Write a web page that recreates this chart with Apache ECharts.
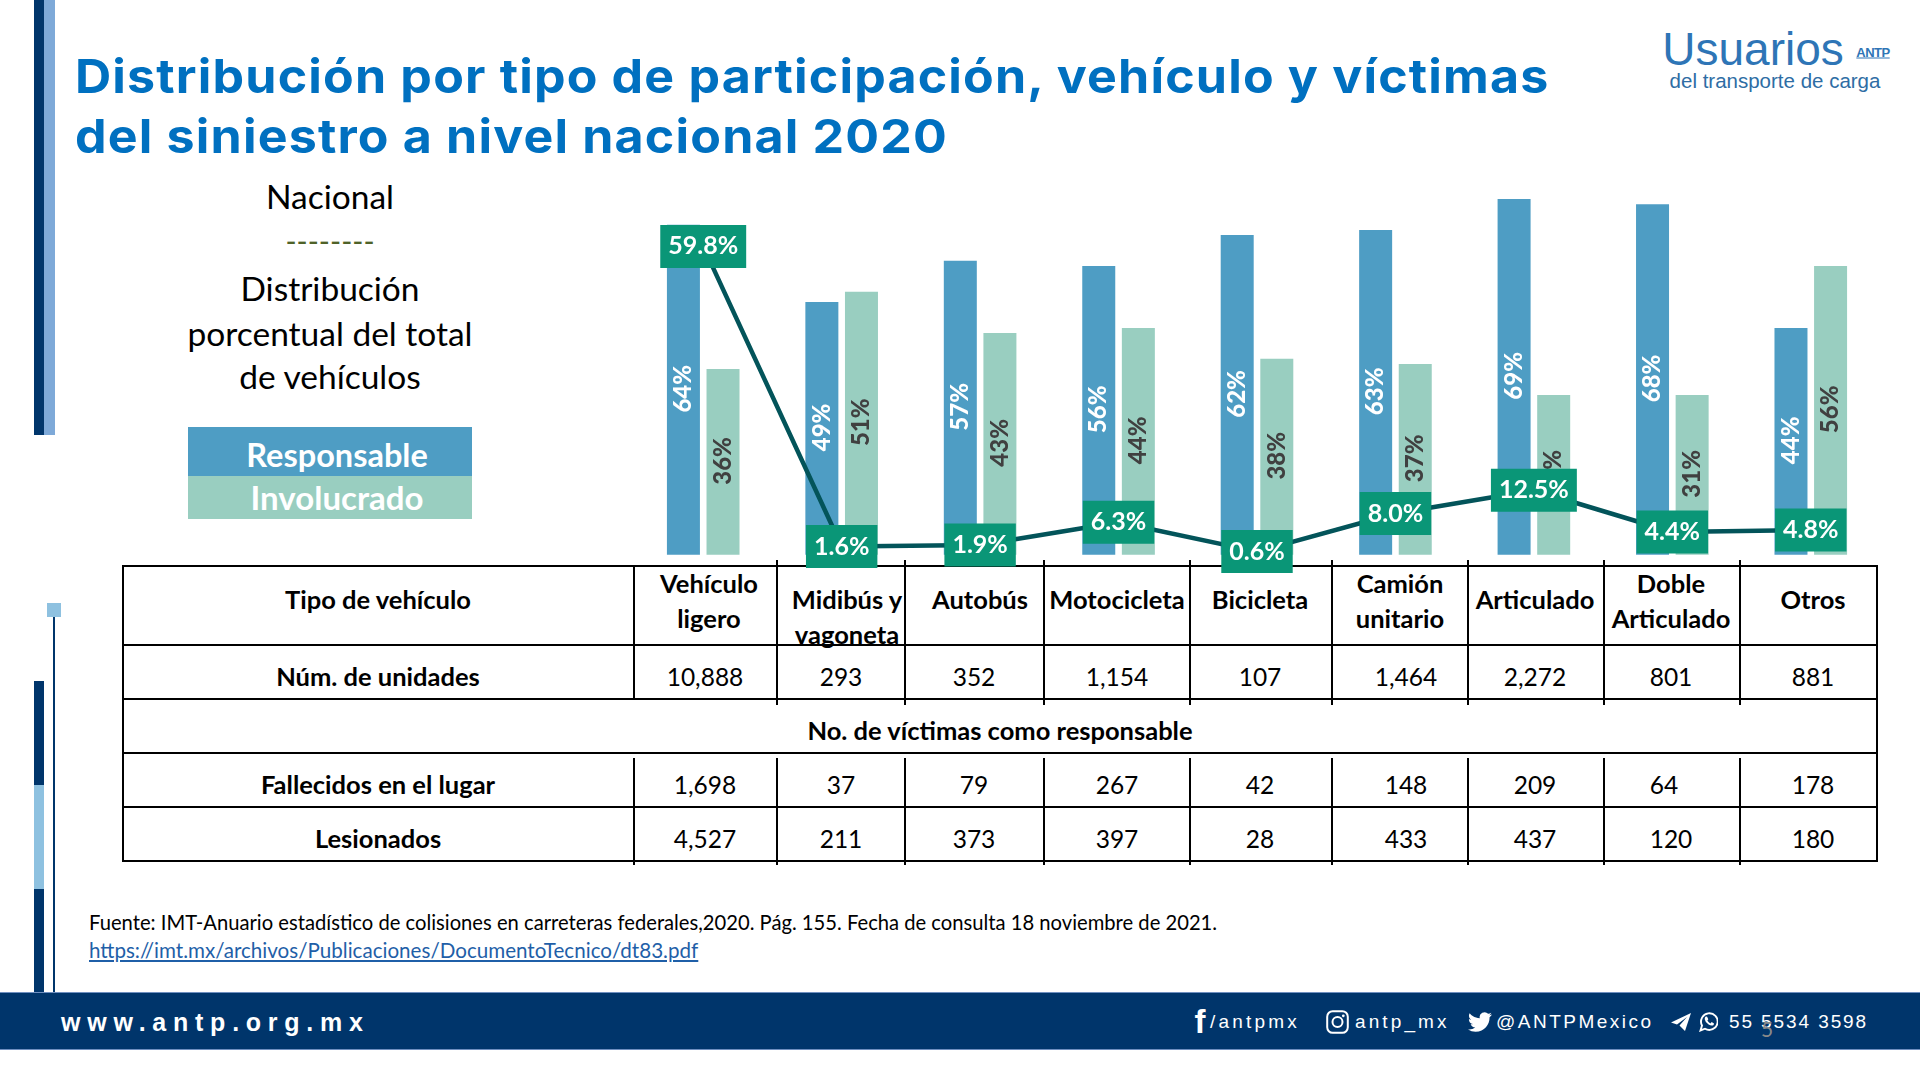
<!DOCTYPE html>
<html lang="es">
<head>
<meta charset="utf-8">
<title>Distribución por tipo de participación</title>
<script src="https://cdn.jsdelivr.net/npm/echarts@6/dist/echarts.min.js"></script>
<style>
	html, body { margin: 0; padding: 0; background: #fff; width: 1920px; height: 1080px; overflow: hidden; }
	#slide, #chart { position: absolute; left: 0; top: 0; width: 1920px; height: 1080px; }
	#chart { z-index: 2; }
	.t { position: absolute; white-space: nowrap; transform: translate(-50%, -50%); font-family: Lato, sans-serif; color: #000; }
	.l { position: absolute; white-space: nowrap; font-family: Lato, sans-serif; }
	.r { position: absolute; }
	.foot { position: absolute; white-space: nowrap; top: 1010px; line-height: 24px; font-family: "Liberation Sans", sans-serif; font-size: 19px; color: #fff; }
	svg { position: absolute; }
</style>
</head>
<body>
<div id="slide"></div>
<div id="chart"></div>
<script>
const categories = ['Vehículo\nligero', 'Midibús y\nvagoneta', 'Autobús', 'Motocicleta', 'Bicicleta', 'Camión\nunitario', 'Articulado', 'Doble\nArticulado', 'Otros'];
const responsable = [64, 49, 57, 56, 62, 63, 69, 68, 44];
const involucrado = [36, 51, 43, 44, 38, 37, 31, 31, 56];
const unidadesPct = [59.8, 1.6, 1.9, 6.3, 0.6, 8.0, 12.5, 4.4, 4.8];
const unidades = [10888, 293, 352, 1154, 107, 1464, 2272, 801, 881];
const fallecidos = [1698, 37, 79, 267, 42, 148, 209, 64, 178];
const lesionados = [4527, 211, 373, 397, 28, 433, 437, 120, 180];

const BLUE = '#4e9dc4';
const MINT = '#99cec0';
const NAVY = '#00356b';

const slide = document.getElementById('slide');

function rect(x, y, w, h, color) {
	const d = document.createElement('div');
	d.className = 'r';
	d.style.cssText = `left:${x}px;top:${y}px;width:${w}px;height:${h}px;background:${color}`;
	slide.appendChild(d);
}

function text(str, x, y, size, extra) {
	const d = document.createElement('div');
	d.className = 't';
	d.textContent = str;
	d.style.cssText = `left:${x}px;top:${y}px;font-size:${size}px;${extra || ''}`;
	slide.appendChild(d);
	return d;
}

function leftText(str, x, y, size, extra) {
	const d = document.createElement('div');
	d.className = 'l';
	d.textContent = str;
	d.style.cssText = `left:${x}px;top:${y}px;font-size:${size}px;${extra || ''}`;
	slide.appendChild(d);
	return d;
}

// side decoration
rect(34, 0, 10, 435, NAVY);
rect(44, 0, 10.5, 435, '#7ea9d8');
rect(34, 681, 10, 104, NAVY);
rect(34, 785, 10, 104, '#8ec1e0');
rect(34, 889, 10, 104, NAVY);
rect(47, 603, 14, 14, '#8ec1e0');
rect(53, 617, 2, 376, NAVY);

// title, stretched because the original face is wider than Inter
const titleStyle = 'font-family:Inter,sans-serif;font-weight:700;color:#0070c0;line-height:60px;letter-spacing:1.1px;transform:scaleX(1.066);transform-origin:left center';
leftText('Distribución por tipo de participación, vehículo y víctimas', 75, 46, 47, titleStyle);
leftText('del siniestro a nivel nacional 2020', 75, 106, 47, titleStyle);

// logo
text('Usuarios', 1753, 49, 46, 'font-family:"Liberation Sans",sans-serif;color:#2e75b6');
text('ANTP', 1873, 52, 13, 'font-family:"Liberation Sans",sans-serif;font-weight:700;color:#2e75b6;text-decoration:underline;letter-spacing:-.5px');
text('del transporte de carga', 1775, 81, 20.5, 'font-family:"Liberation Sans",sans-serif;color:#2e6da4');

// left notes
text('Nacional', 330, 196, 33.5);
text('--------', 330, 240, 30, 'color:#4f6228');
text('Distribución', 330, 288, 33.5);
text('porcentual del total', 330, 333, 33.5);
text('de vehículos', 330, 376, 33.5);

// legend
rect(188, 427, 284, 49, BLUE);
rect(188, 476, 284, 43, MINT);
text('Responsable', 337, 454, 32.5, 'color:#fff;font-weight:700');
text('Involucrado', 337, 497, 33, 'color:#fff;font-weight:700');

// table
const colLines = [634, 777, 905, 1044, 1190, 1332, 1468, 1604, 1740];
const colCenters = [709, 847, 980, 1117, 1260, 1400, 1535, 1671, 1813];
const valCenters = [705, 841, 974, 1117, 1260, 1406, 1535, 1671, 1813];
const rowLines = [566, 645, 699, 753, 807, 861];

rowLines.forEach(y => rect(123, y - 1, 1755, 2.4, '#000'));
rect(122, 565, 2.4, 297, '#000');
rect(1876, 565, 2.4, 297, '#000');
colLines.forEach((x, i) => {
	if (i === 0) {
		rect(x - 0.75, 566, 1.6, 134, '#000');
	} else {
		rect(x - 0.75, 560, 1.6, 145, '#000');
	}
	rect(x - 0.75, 758, 1.6, 107, '#000');
});

const bold = 'font-weight:700';
text('Tipo de vehículo', 378, 599, 25.5, bold);
text('Núm. de unidades', 378, 676, 25.5, bold);
text('No. de víctimas como responsable', 1000, 730, 25.5, bold);
text('Fallecidos en el lugar', 378, 784, 25.5, bold);
text('Lesionados', 378, 838, 25.5, bold);

categories.forEach((name, i) => {
	const parts = name.split('\n');
	if (parts.length === 1) {
		text(parts[0], colCenters[i], 599, 25.5, bold);
	} else {
		const top = i === 1 ? 599 : 583;
		text(parts[0], colCenters[i], top, 25.5, bold);
		text(parts[1], colCenters[i], top + 35, 25.5, bold);
	}
	text(unidades[i].toLocaleString('en-US'), valCenters[i], 676, 24.5);
	// the 64 sits a little left of its column in the reference
	text(fallecidos[i].toLocaleString('en-US'), valCenters[i] - (i === 7 ? 7 : 0), 784, 24.5);
	text(lesionados[i].toLocaleString('en-US'), valCenters[i], 838, 24.5);
});

// source
leftText('Fuente: IMT-Anuario estadístico de colisiones en carreteras federales,2020. Pág. 155. Fecha de consulta 18 noviembre de 2021.', 89, 908, 20.2, 'color:#000;line-height:28px');
leftText('https://imt.mx/archivos/Publicaciones/DocumentoTecnico/dt83.pdf', 89, 936, 20.6, 'color:#1f5fa8;line-height:28px;text-decoration:underline');

// footer
rect(0, 992, 1920, 58, NAVY);
rect(0, 992, 1920, 1, '#6f8fc0');
rect(0, 1049, 1920, 1, '#6f8fc0');
leftText('www.antp.org.mx', 61, 1008, 25, 'font-family:"Liberation Sans",sans-serif;font-weight:700;color:#fff;line-height:28px;letter-spacing:6.75px');

function foot(str, x, spacing) {
	const d = document.createElement('div');
	d.className = 'foot';
	d.textContent = str;
	d.style.left = x + 'px';
	d.style.letterSpacing = spacing + 'px';
	slide.appendChild(d);
}
foot('/antpmx', 1210, 3.2);
foot('antp_mx', 1355, 3.1);
foot('@ANTPMexico', 1496, 2.5);
foot('55 5534 3598', 1729, 1.9);
text('f', 1200, 1022, 33, 'font-family:"Liberation Sans",sans-serif;font-weight:700;color:#fff');
text('5', 1767, 1028, 21, 'color:#898989');

slide.insertAdjacentHTML('beforeend', `
	<svg style="left:1326px;top:1010px" width="23" height="24" viewBox="0 0 23 24">
		<rect x="1.2" y="1.2" width="20.6" height="21.6" rx="5.5" fill="none" stroke="#fff" stroke-width="2"/>
		<circle cx="11.5" cy="12" r="5" fill="none" stroke="#fff" stroke-width="2"/>
		<circle cx="17.3" cy="5.8" r="1.4" fill="#fff"/>
	</svg>
	<svg style="left:1468px;top:1010px" width="24" height="24" viewBox="0 0 24 24">
		<path fill="#fff" d="M23.95 4.57a10 10 0 0 1-2.82.78 4.96 4.96 0 0 0 2.16-2.72c-.95.55-2 .96-3.13 1.18a4.92 4.92 0 0 0-8.38 4.48C7.69 8.1 4.07 6.13 1.64 3.16a4.82 4.82 0 0 0-.67 2.48c0 1.71.87 3.21 2.19 4.1a4.9 4.9 0 0 1-2.23-.62v.06a4.92 4.92 0 0 0 3.95 4.83 5 5 0 0 1-2.21.08 4.94 4.94 0 0 0 4.6 3.42A9.87 9.87 0 0 1 0 19.54a14 14 0 0 0 7.56 2.21c9.05 0 14-7.5 14-13.98 0-.21 0-.42-.02-.63A9.94 9.94 0 0 0 24 4.59z"/>
	</svg>
	<svg style="left:1671px;top:1013px" width="20" height="18" viewBox="0 0 20 18">
		<path fill="#fff" d="M20 0 L0 9.5 L6 11.5 L16 4 L8.5 12.5 L14 18 Z"/>
	</svg>
	<svg style="left:1699px;top:1011px" width="19" height="21" viewBox="0 0 19 21">
		<path fill="none" stroke="#fff" stroke-width="1.9" d="M1.5 19.5 L3 14.5 A8.3 8.3 0 1 1 6 17.7 Z"/>
		<path fill="#fff" d="M6.4 5.8 L8 5.6 L9.3 8.3 L8.4 9.6 Q9.6 11.6 11.4 12.4 L12.7 11.1 L15 12.4 L14.6 14 Q12.6 15.4 9.6 13.6 Q6.2 11.4 5.7 8.2 Q5.7 6.8 6.4 5.8 Z"/>
	</svg>
`);

const chart = echarts.init(document.getElementById('chart'), null, { width: 1920, height: 1080 });

function barLabel(color) {
	return {
		show: true,
		position: 'inside',
		rotate: 90,
		offset: [1, 0],
		color: color,
		fontFamily: 'Lato',
		fontWeight: 900,
		fontSize: 24,
		formatter: '{c}%'
	};
}

chart.setOption({
	animation: false,
	backgroundColor: 'transparent',
	grid: { left: 634, width: 1246, top: 142.3, height: 412.4 },
	xAxis: { type: 'category', data: categories, show: false },
	yAxis: { type: 'value', min: 0, max: 80, show: false },
	series: [
		{
			name: 'Responsable',
			type: 'bar',
			barWidth: 33,
			barGap: '20%',
			itemStyle: { color: BLUE },
			label: barLabel('#fff'),
			data: responsable,
			z: 2
		},
		{
			name: 'Involucrado',
			type: 'bar',
			barWidth: 33,
			itemStyle: { color: MINT },
			label: barLabel('#404040'),
			data: involucrado,
			z: 2
		},
		{
			name: 'Núm. de unidades',
			type: 'line',
			symbol: 'circle',
			symbolSize: 2,
			showSymbol: true,
			showAllSymbol: true,
			itemStyle: { color: '#03545a' },
			lineStyle: { color: '#03545a', width: 4.5 },
			data: unidadesPct,
			z: 5,
			labelLayout: { hideOverlap: false },
			label: {
				show: true,
				position: 'inside',
				color: '#fff',
				backgroundColor: '#0a9677',
				fontFamily: 'Lato',
				fontWeight: 700,
				fontSize: 25,
				lineHeight: 25,
				padding: [13, 8, 5, 8],
				offset: [0, 1],
				formatter: p => p.value.toFixed(1) + '%'
			}
		}
	]
});
</script>
</body>
</html>
